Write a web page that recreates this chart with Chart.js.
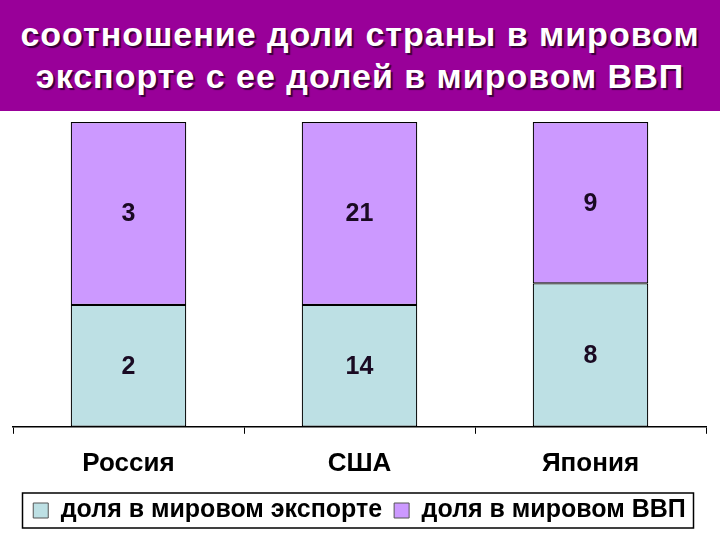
<!DOCTYPE html>
<html>
<head>
<meta charset="utf-8">
<script src="https://cdn.jsdelivr.net/npm/chart.js@4"></script>
<style>
    html, body { margin: 0; padding: 0; background: #fff; }
    #title {
        width: 720px; height: 111px; background: #990099; color: #fff;
        font: bold 34px 'Liberation Sans', Arial, sans-serif; letter-spacing: 1px;
        text-align: center; line-height: 42px; padding-top: 13px; box-sizing: border-box;
        text-shadow: 2px 2px 1px #3a003a; white-space: nowrap;
    }
    #wrap { position: relative; width: 720px; height: 429px; }
</style>
</head>
<body>
<div id="title">соотношение доли страны в мировом<br>экспорте с ее долей в мировом ВВП</div>
<div id="wrap"><canvas id="chart"></canvas></div>
<script>
// --- DATA ---
const countries = ['Россия', 'США', 'Япония'];
const exportShare = [2, 14, 8];   // доля в мировом экспорте
const gdpShare = [3, 21, 9];      // доля в мировом ВВП
const seriesNames = ['доля в мировом экспорте', 'доля в мировом ВВП'];

const COLORS = {
    exportFill: '#BDE0E4',
    gdpFill: '#CC99FF',
    ink: '#000000'
};

// 100% stacked: each bar scaled to its own total
const totals = countries.map((_, i) => exportShare[i] + gdpShare[i]);
const exportPct = exportShare.map((v, i) => v / totals[i] * 100);
const gdpPct = gdpShare.map((v, i) => v / totals[i] * 100);
const rawValues = [exportShare, gdpShare];

// --- PLUGINS ---
const valueLabels = {
    id: 'valueLabels',
    afterDatasetsDraw(chart) {
        const ctx = chart.ctx;
        ctx.save();
        ctx.font = 'bold 25px "Liberation Sans", Arial, sans-serif';
        ctx.fillStyle = '#1a0a22';
        ctx.textAlign = 'center';
        ctx.textBaseline = 'middle';
        chart.data.datasets.forEach((ds, d) => {
            chart.getDatasetMeta(d).data.forEach((bar, i) => {
                const p = bar.getCenterPoint();
                ctx.fillText(String(rawValues[d][i]), p.x, p.y + 1);
            });
        });
        ctx.restore();
    }
};

// Excel-style frame around the legend row
const legendFrame = {
    id: 'legendFrame',
    afterDraw(chart) {
        const boxes = chart.legend && chart.legend.legendHitBoxes;
        if (!boxes || !boxes.length) return;
        const mid = boxes[0].top + boxes[0].height / 2;
        const ctx = chart.ctx;
        ctx.save();
        ctx.strokeStyle = COLORS.ink;
        ctx.lineWidth = 1.5;
        ctx.strokeRect(22.5, mid - 17.5, 671, 35);
        ctx.restore();
    }
};

// --- CHART ---
function renderShareChart() {
    const ctx = document.getElementById('chart').getContext('2d');
    new Chart(ctx, {
        type: 'bar',
        data: {
            labels: countries,
            datasets: [
                {
                    label: seriesNames[0],
                    data: exportPct,
                    backgroundColor: COLORS.exportFill,
                    borderColor: COLORS.ink,
                    borderWidth: 1.2,
                    borderSkipped: false
                },
                {
                    label: seriesNames[1],
                    data: gdpPct,
                    backgroundColor: COLORS.gdpFill,
                    borderColor: COLORS.ink,
                    borderWidth: 1.2,
                    borderSkipped: false
                }
            ]
        },
        options: {
            responsive: true,
            maintainAspectRatio: false,
            animation: false,
            layout: { padding: { top: 11, left: 13, right: 14, bottom: 7 } },
            datasets: { bar: { categoryPercentage: 1, barPercentage: 0.5 } },
            plugins: {
                legend: {
                    position: 'bottom',
                    labels: {
                        color: COLORS.ink,
                        font: { family: '"Liberation Sans", Arial, sans-serif', size: 25, weight: 'bold' },
                        boxWidth: 15,
                        boxHeight: 15,
                        padding: 5,
                        generateLabels(chart) {
                            return chart.data.datasets.map((ds, i) => ({
                                text: i === 0 ? ds.label + ' ' : ds.label,
                                fillStyle: ds.backgroundColor,
                                strokeStyle: '#555',
                                lineWidth: 1,
                                datasetIndex: i,
                                fontColor: COLORS.ink
                            }));
                        }
                    }
                },
                tooltip: { enabled: false }
            },
            scales: {
                x: {
                    stacked: true,
                    grid: {
                        display: true,
                        offset: true,
                        drawOnChartArea: false,
                        drawTicks: true,
                        tickLength: 7,
                        color: COLORS.ink
                    },
                    border: { display: true, color: COLORS.ink, width: 1.5 },
                    ticks: {
                        color: COLORS.ink,
                        padding: 14,
                        font: { family: '"Liberation Sans", Arial, sans-serif', size: 26, weight: 'bold' }
                    }
                },
                y: {
                    stacked: true,
                    display: false,
                    min: 0,
                    max: 100
                }
            }
        },
        plugins: [valueLabels, legendFrame]
    });
}

renderShareChart();
</script>
</body>
</html>
